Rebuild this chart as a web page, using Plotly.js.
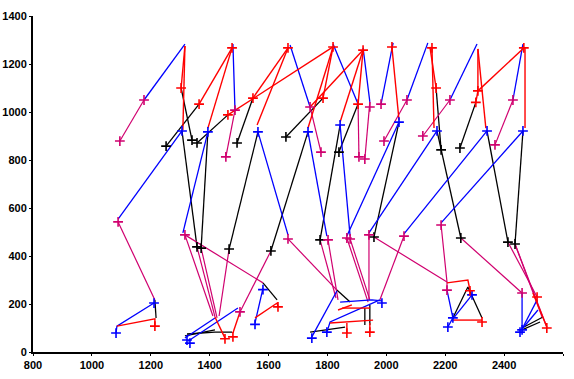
<!DOCTYPE html>
<html>
<head>
<meta charset="utf-8">
<script src="https://cdn.plot.ly/plotly-3.0.1.min.js"></script>
<style>html,body{margin:0;padding:0;background:#fff}#chart{width:574px;height:379px}</style>
</head>
<body>
<div id="chart"></div>
<script>
// ---- data (x in the chart's x units, y in the chart's y units) ----
const xTicks = [800, 1000, 1200, 1400, 1600, 1800, 2000, 2200, 2400, 2600];
const yTicks = [0, 200, 400, 600, 800, 1000, 1200, 1400];

// blue segments (null separates polylines)
const blueX = [1316,1177,null, 1479,1486,null, 1673,1741,null, 1819,1904,null, 1921,1944,null,
  2023,1982,null, 2141,2070,null, 2308,2216,null, 2464,2430,null,
  1306,1089,null, 1394,1309,null, 1564,1666,null, 1734,1798,null, 1843,1877,null,
  2043,1866,null, 2172,1941,null, 2342,2060,null, 2464,2186,null,
  1211,1085,1082,null, 1581,1554,null, 1316,1418,null, 1326,1496,null,
  1832,1747,null, 1798,1809,1978,null, 1843,1951,1985,null,
  2206,2226,null, 2226,2291,null, 2209,2226,null, 2461,2461,null, 2461,2512,null, 2461,2515,null];
const blueY = [1283,1050,null, 1283,1008,null, 1279,1021,null, 1283,1033,null, 1267,1042,null,
  1288,1033,null, 1288,1050,null, 1283,1050,null, 1283,1050,null,
  921,554,null, 917,496,null, 917,488,null, 917,483,null, 946,483,null,
  958,483,null, 921,496,null, 921,492,null, 921,538,null,
  204,108,79,null, 265,121,null, 58,142,null, 45,183,null,
  254,63,null, 83,125,217,null, 208,217,213,null,
  258,142,null, 138,238,null, 104,142,null, 246,92,null, 96,217,null, 96,175,null];

// red segments
const redX = [1316,1303,null, 1476,1364,null, 1666,1547,null, 1819,1785,null, 1921,1904,null,
  1819,1462,null, 1921,1741,null, 2148,2169,null, 2311,2311,2304,null, 2467,2311,null,
  1316,1309,null, 1476,1394,null, 1666,1561,null, 1819,1734,null, 1921,1843,null,
  2019,2043,null, 2155,2162,null, 2311,2338,null, 2471,2471,null,
  1085,1214,1214,null, 1554,1629,1632,null, 1418,1452,null, 1503,1479,null,
  1836,1883,null, 1809,1955,null, 1850,1944,null, 1866,1866,null, 1944,1944,null,
  2206,2277,2284,null, 2226,2325,null, 2498,2545,null];
const redY = [1275,1100,null, 1267,1033,null, 1267,1058,null, 1271,1058,null, 1258,1033,null,
  1271,988,null, 1258,1021,null, 1271,1100,null, 1263,1088,1040,null, 1267,1088,null,
  1275,925,null, 1267,933,null, 1267,946,null, 1271,933,null, 1258,958,null,
  1271,967,null, 1267,933,null, 1263,933,null, 1267,933,null,
  108,138,108,null, 142,204,188,null, 146,58,null, 167,79,null,
  175,196,null, 121,133,null, 183,183,null, 121,79,null, 121,83,null,
  288,300,258,null, 133,133,null, 246,104,null];

// magenta segments
const magX = [1177,1095,null, 1486,1455,null, 1741,1778,null, 1904,1907,null, 1944,1927,null,
  2070,1992,null, 2216,2124,null, 2430,2369,null,
  1089,1214,null, 1316,1581,null, 1316,1411,null, 1357,1418,null, 1371,1425,null,
  1466,1432,null, 1608,1503,null, 1666,1832,null, 1802,1836,null, 1775,1829,null,
  1866,1938,null, 1877,1944,null, 1941,1941,null, 2060,1978,null, 1958,2206,null,
  2186,2206,2206,null, 2253,2461,null, 2413,2512,null, 2437,2529,null, 2437,2545,null];
const magY = [1050,879,null, 1008,813,null, 1021,833,null, 1033,813,null, 1042,804,null,
  1050,879,null, 1050,900,null, 1050,863,null,
  542,217,null, 488,288,null, 488,150,null, 438,146,null, 433,142,null,
  429,150,null, 421,167,null, 471,258,null, 467,217,null, 467,225,null,
  475,208,null, 471,217,null, 488,217,null, 483,217,null, 479,292,null,
  529,292,258,null, 475,246,null, 458,229,null, 450,146,null, 450,104,null];

// black segments
const blackX = [1303,1340,null, 1364,1252,null, 1547,1493,null, 1785,1659,null, 1904,1839,null,
  1462,1357,null, 2169,2186,null, 2304,2250,null,
  1306,1357,null, 1394,1371,null, 1564,1466,null, 1734,1608,null, 1843,1775,null,
  2043,1958,null, 2172,2253,null, 2342,2413,null, 2464,2437,null,
  1214,1218,null, 1581,1629,null, 1323,1418,1476,null, 1316,1418,null,
  1832,1877,null, 1741,1860,null, 1927,1927,null, 1944,1944,null,
  2226,2277,2325,null, 2461,2532,null, 2461,2522,null];
const blackY = [1100,883,null, 1033,858,null, 1058,871,null, 1058,896,null, 1033,833,null,
  988,871,null, 1100,842,null, 1040,850,null,
  921,438,null, 917,433,null, 917,429,null, 917,421,null, 946,467,null,
  958,479,null, 921,475,null, 921,458,null, 921,450,null,
  217,142,null, 288,217,null, 75,83,83,null, 67,92,null,
  258,208,null, 83,104,null, 183,113,null, 196,113,null,
  142,271,142,null, 100,146,null, 92,125,null];

// "+" markers
const blueMX = [1306,1394,1564,1734,1843,2043,2172,2342,2464,1211,1082,1581,1554,1323,1333,1747,1798,1985,2226,2209,2291,2461,2454];
const blueMY = [921,917,917,917,946,958,921,921,921,204,79,260,115,50,37,58,83,204,142,104,238,92,83];
const redMX = [1303,1364,1462,1547,1785,1904,2169,2311,2304,1476,1666,1819,1921,2019,2155,2467,1214,1632,1452,1479,1866,1944,2284,2325,2545,2512];
const redMY = [1100,1033,988,1058,1058,1033,1100,1088,1040,1267,1267,1271,1258,1271,1267,1267,108,188,55,63,79,83,255,125,100,229];
const magMX = [1095,1177,1455,1486,1741,1778,1907,1927,1944,1982,2070,1992,2216,2124,2430,2369,1089,1316,1666,1802,1877,1866,1941,2060,2186,1503,2206,2461];
const magMY = [879,1050,813,1008,1021,833,813,804,1021,1033,1050,879,1050,900,1050,863,542,488,471,467,471,475,488,483,529,167,258,246];
const blackMX = [1340,1252,1493,1659,1839,1357,2186,2250,1357,1371,1466,1608,1775,1958,2253,2413,2437];
const blackMY = [883,858,871,896,833,871,842,850,438,433,429,421,467,479,475,458,450];

// ---- styles ----
const C = {blue:'#0000ff', red:'#ff0000', mag:'#d0006f', black:'#000000'};

function lineTrace(x, y, color, w) {
  return {x: x, y: y, type: 'scatter', mode: 'lines', connectgaps: false,
          line: {color: color, width: w}, hoverinfo: 'skip'};
}
function markTrace(x, y, color) {
  return {x: x, y: y, type: 'scatter', mode: 'markers', hoverinfo: 'skip',
          marker: {symbol: 'cross-thin', size: 7, color: color, line: {color: color, width: 1.6}}};
}

const traces = [
  lineTrace(blackX, blackY, C.black, 1.3),
  lineTrace(magX, magY, C.mag, 1.2),
  lineTrace(blueX, blueY, C.blue, 1.3),
  lineTrace(redX, redY, C.red, 1.4),
  markTrace(blackMX, blackMY, C.black),
  markTrace(magMX, magMY, C.mag),
  markTrace(blueMX, blueMY, C.blue),
  markTrace(redMX, redMY, C.red)
];

const tickFont = {family: 'Liberation Sans Narrow, Arial Narrow, Liberation Sans, Arial, sans-serif', size: 11, color: '#000', weight: 'bold'};

const layout = {
  width: 574, height: 379,
  margin: {l: 33, r: 11, t: 16, b: 27, pad: 0},
  paper_bgcolor: '#fff', plot_bgcolor: '#fff',
  showlegend: false,
  xaxis: {range: [800, 2600], tickvals: xTicks, ticktext: xTicks.map(String),
          showline: true, linecolor: '#000', linewidth: 2, showgrid: false, zeroline: false,
          ticks: 'outside', ticklen: 2, tickcolor: '#000', tickfont: tickFont, fixedrange: true},
  yaxis: {range: [0, 1400], tickvals: yTicks, ticktext: yTicks.map(String),
          showline: true, linecolor: '#000', linewidth: 2, showgrid: false, zeroline: false,
          ticks: 'outside', ticklen: 2, tickcolor: '#000', tickfont: tickFont, fixedrange: true}
};

Plotly.newPlot('chart', traces, layout, {displayModeBar: false, staticPlot: true});
</script>
</body>
</html>
